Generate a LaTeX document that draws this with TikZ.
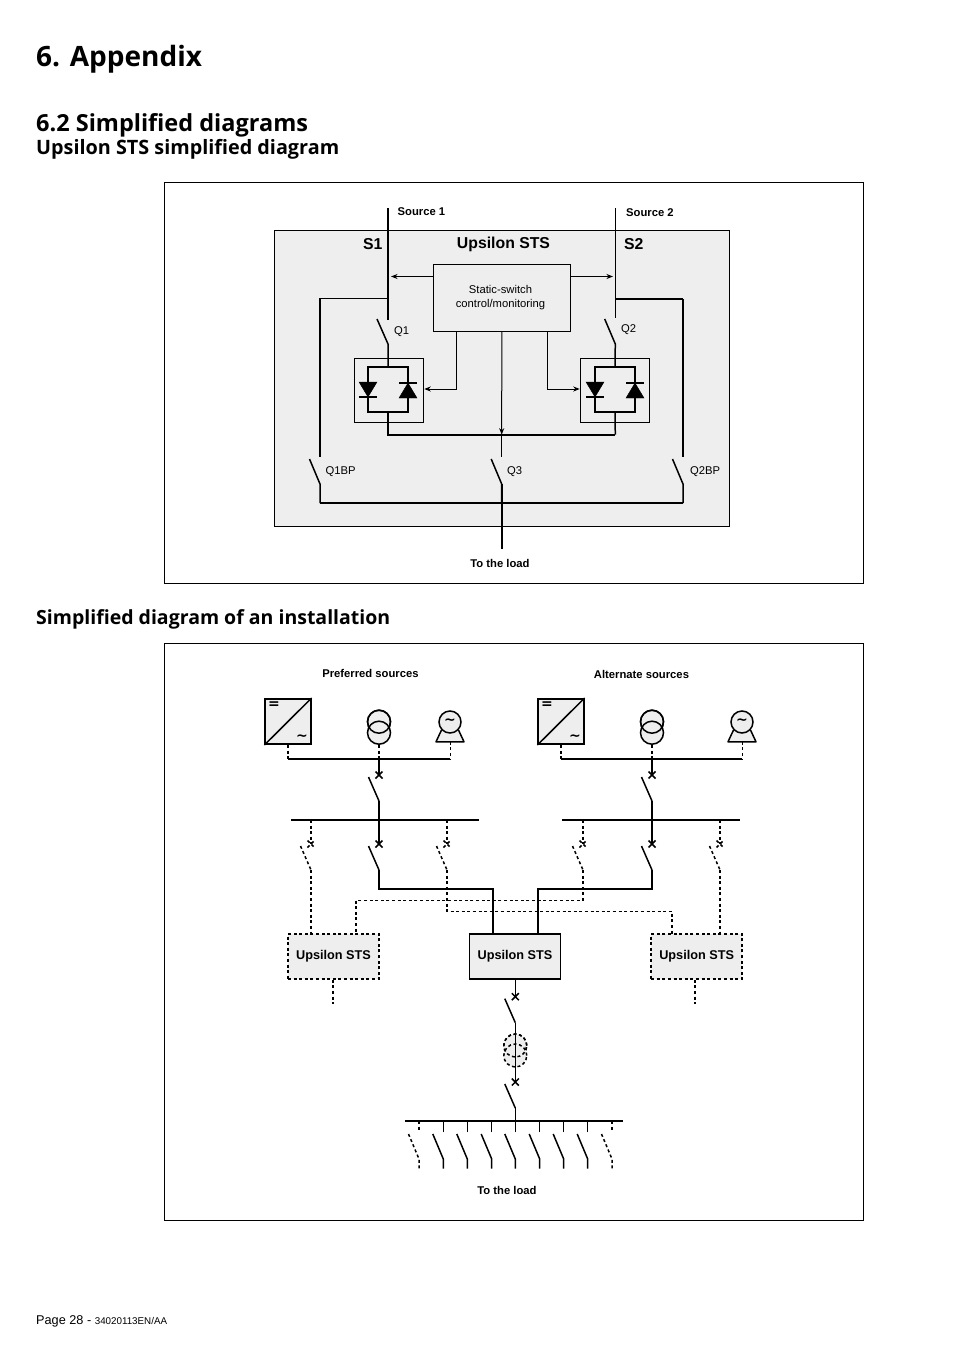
\documentclass[tikz,border=0pt]{standalone}
\usepackage{fontspec}
\setmainfont{Liberation Sans}
\newfontfamily\headfont{Open Sans}
\newfontfamily\symbfont{DejaVu Sans}
\usetikzlibrary{arrows.meta}
\definecolor{panelgray}{HTML}{EEEEEE}
\tikzset{>={Stealth[length=6.5pt,width=5pt,inset=2pt]}}
\tikzset{
  frame/.style={draw,line width=0.9pt,inner sep=0pt},
  housing/.style={draw,line width=0.9pt,fill=panelgray,inner sep=0pt},
  bridgebox/.style={draw,line width=0.8pt,inner sep=0pt,minimum width=69.7pt,minimum height=64pt},
  bridgecore/.style={draw,line width=1.6pt,inner sep=0pt,minimum width=40.3pt,minimum height=44.7pt},
  thin wire/.style={line width=1pt},
  mid wire/.style={line width=1.5pt},
  heavy wire/.style={line width=2pt},
  bus wire/.style={line width=1.7pt},
  dash wire/.style={line width=1.5pt,dash pattern=on 3pt off 2.6pt},
  stsbox/.style={fill=panelgray,inner sep=0pt,minimum width=91pt,minimum height=45pt,font=\fontsize{12.7}{14}\selectfont\bfseries},
  sourcebox/.style={draw,line width=1.6pt,fill=panelgray,inner sep=0pt,minimum width=45.6pt,minimum height=45.4pt},
  coil/.style={draw,circle,line width=1.5pt,inner sep=0pt,minimum size=23pt},
  symb/.style={inner sep=0pt,font=\symbfont\fontsize{14}{16}\selectfont\bfseries},
  label/.style={inner sep=0pt,font=\fontsize{11.25}{13}\selectfont},
  boldlabel/.style={inner sep=0pt,font=\fontsize{11.25}{13}\selectfont\bfseries},
  biglabel/.style={inner sep=0pt,font=\fontsize{15.8}{17}\selectfont\bfseries}
}
% cross and blade of a switch: style, name, x, y of the cross
\newcommand{\breaker}[4]{
  \coordinate (#2x) at (#3,#4);
  \coordinate (#2t) at (#3-10.5,#4+2);
  \coordinate (#2b) at (#3,#4+26);
  \draw[#1] (#2x) +(-3.5,-3.5) -- +(3.5,3.5) +(-3.5,3.5) -- +(3.5,-3.5);
  \draw[#1] (#2t) -- (#2b);
}
% the three sources above one bus
\newcommand{\sourcegroup}[4]{
  \node[sourcebox] (#1conv) at (#2,721.5) {};
  \draw[line width=1.5pt] (#1conv.south west) -- (#1conv.north east);
  \node[symb] (#1eq) at (#2-14,705.5) {=};
  \node[symb] (#1ac) at (#2+14,738) {\char"223C};
  \node[coil,fill=panelgray] (#1coila) at (#3,721.7) {};
  \node[coil,fill=panelgray] (#1coilb) at (#3,732.7) {};
  \node[coil] (#1coilc) at (#3,721.7) {};
  \coordinate (#1legl) at (#4-14,741.8);
  \coordinate (#1legr) at (#4+14,741.8);
  \coordinate (#1necl) at (#4-8.5,730);
  \coordinate (#1necr) at (#4+8.5,730);
  \draw[line width=1.5pt,fill=panelgray,line join=round] (#1necl) -- (#1legl) -- (#1legr) -- (#1necr);
  \node[coil,symb,fill=panelgray,minimum size=22pt] (#1gen) at (#4,722) {\char"223C};
  \coordinate (#1tapa) at (#2,759);
  \coordinate (#1tapb) at (#3,759);
  \coordinate (#1tapc) at (#4,759);
  \draw[dash wire] (#1conv.south) -- (#1tapa);
  \draw[dash wire] (#1coilb.south) -- (#1tapb);
  \draw[dash wire,line width=1pt] (#1gen.south |- #1legl) -- (#1tapc);
  \draw[mid wire] (#1tapa) -- (#1tapc);
}
\begin{document}
\begin{tikzpicture}[x=1pt,y=-1pt]
  \useasboundingbox (0,0) rectangle (954,1351);
  % page headings
  \node[anchor=base west,inner sep=0pt,font=\headfont\fontsize{28}{30}\selectfont\bfseries] (title) at (36,67) {6. Appendix};
  \node[anchor=base west,inner sep=0pt,font=\headfont\fontsize{23.5}{26}\selectfont\bfseries] (secA) at (36,131.5) {6.2 Simplified diagrams};
  \node[anchor=base west,inner sep=0pt,font=\headfont\fontsize{19.8}{22}\selectfont\bfseries] (subA) at (36,155) {Upsilon STS simplified diagram};
  \node[anchor=base west,inner sep=0pt,font=\headfont\fontsize{19.5}{22}\selectfont\bfseries] (subB) at (36,624) {Simplified diagram of an installation};
  \node[anchor=base west,inner sep=0pt,font=\fontsize{12.7}{14}\selectfont] (page) at (36,1324) {Page 28 - {\fontsize{9.8}{11}\selectfont 34020113EN/AA}};

  % upper diagram
  \node[frame,minimum width=699pt,minimum height=401pt] (frameA) at (513.5,382.5) {};
  \node[housing,minimum width=454.5pt,minimum height=295.4pt] (sts) at (502,378.3) {};
  \node[housing,minimum width=137pt,minimum height=67pt] (ctrl) at (501.8,297.8) {};
  \node[bridgebox] (bridgeA) at (389,390) {};
  \node[bridgebox] (bridgeB) at (615,390) {};
  \node[bridgecore] (coreA) at (388,389.5) {};
  \node[bridgecore] (coreB) at (615,389.5) {};
  \foreach \cx in {368,595} {
    \draw[fill=black] (\cx-9,382) -- (\cx+9,382) -- (\cx,397) -- cycle;
    \draw[line width=1.6pt] (\cx-9,397) -- (\cx+9,397);
  }
  \foreach \cx in {408,635} {
    \draw[fill=black] (\cx-9,398) -- (\cx+9,398) -- (\cx,383) -- cycle;
    \draw[line width=1.6pt] (\cx-9,383) -- (\cx+9,383);
  }
  \coordinate (srcA) at (388,208);
  \coordinate (srcB) at (615.3,208);
  \coordinate (teeA) at (388,298.5);
  \coordinate (teeB) at (615.3,299);
  \coordinate (endA) at (388,320);
  \coordinate (endB) at (615.3,318);
  \coordinate (hingeA) at (388,344);
  \coordinate (hingeB) at (615.3,344);
  \coordinate (bladeA) at (377,319);
  \coordinate (bladeB) at (604.7,319);
  \coordinate (joinA) at (388,434.7);
  \coordinate (joinB) at (615.3,434.7);
  \coordinate (joinC) at (501.7,434.7);
  \coordinate (cornerL) at (320,298.5);
  \coordinate (cornerR) at (683,299);
  \foreach \name/\cx in {L/320,C/501.7,R/683} {
    \coordinate (top\name) at (\cx,457);
    \coordinate (tip\name) at (\cx-10.5,459);
    \coordinate (hinge\name) at (\cx,484);
    \coordinate (out\name) at (\cx,503);
    \draw[mid wire] (tip\name) -- (hinge\name) -- (out\name);
  }
  \coordinate (load) at (501.7,549);
  \draw[heavy wire] (srcA) -- (endA);
  \draw[thin wire] (srcB) -- (endB);
  \draw[mid wire] (teeA) -- (cornerL) -- (topL);
  \draw[heavy wire] (teeB) -- (cornerR);
  \draw[mid wire] (cornerR) -- (topR);
  \draw[mid wire] (bladeA) -- (hingeA) -- (coreA.north);
  \draw[mid wire] (bladeB) -- (hingeB) -- (coreB.north);
  \draw[heavy wire] (coreA.south) -- (joinA) -- (joinB);
  \draw[mid wire] (joinB) -- (coreB.south);
  \draw[mid wire] (joinC) -- (topC);
  \draw[heavy wire] (outL) -- (outR);
  \draw[heavy wire] (hingeC) -- (load);
  % control arrows
  \coordinate (armA) at (ctrl.west |- 0,276.5);
  \coordinate (armB) at (ctrl.east |- 0,276.5);
  \coordinate (tipA) at (391,276.5);
  \coordinate (tipB) at (613,276.5);
  \coordinate (dropA) at (456.3,331.3);
  \coordinate (dropB) at (547.3,331.3);
  \coordinate (elbowA) at (456.3,389);
  \coordinate (elbowB) at (547.3,389);
  \draw[->,thin wire] (armA) -- (tipA);
  \draw[->,thin wire] (armB) -- (tipB);
  \draw[->,thin wire] (dropA) -- (elbowA) -- (bridgeA.east |- elbowA);
  \draw[->,thin wire] (dropB) -- (elbowB) -- (bridgeB.west |- elbowB);
  \draw[->,thin wire] (ctrl.south) -- (joinC);
  % upper labels
  \node[boldlabel,anchor=base west] (srcAlab) at (397.5,215) {Source 1};
  \node[boldlabel,anchor=base west] (srcBlab) at (626,216) {Source 2};
  \node[biglabel,anchor=base west] (sAlab) at (363,249) {S1};
  \node[biglabel,anchor=base west] (sBlab) at (624,249) {S2};
  \node[biglabel,anchor=base] (stslab) at (503.5,248.5) {Upsilon STS};
  \node[label,anchor=base] (ctrllabA) at (500.5,293) {Static-switch};
  \node[label,anchor=base] (ctrllabB) at (500.5,307) {control/monitoring};
  \node[label,anchor=base west] (qA) at (394,334) {Q1};
  \node[label,anchor=base west] (qB) at (621,332) {Q2};
  \node[label,anchor=base west] (qAbp) at (325.5,474) {Q1BP};
  \node[label,anchor=base west] (qC) at (507,474) {Q3};
  \node[label,anchor=base west] (qBbp) at (690,474) {Q2BP};
  \node[boldlabel,anchor=base] (loadA) at (500,567) {To the load};

  % lower diagram
  \node[frame,minimum width=699pt,minimum height=577pt] (frameB) at (513.5,931.5) {};
  \node[boldlabel,anchor=base] (prefer) at (370.5,677) {Preferred sources};
  \node[boldlabel,anchor=base] (altern) at (641.5,678) {Alternate sources};
  \sourcegroup{p}{288}{379}{450}
  \sourcegroup{a}{561}{652}{742}
  % incomers and buses
  \breaker{mid wire}{pin}{379}{775}
  \breaker{mid wire}{ain}{652}{775}
  \draw[mid wire] (ptapb) -- (pinx);
  \draw[mid wire] (atapb) -- (ainx);
  \coordinate (pbusl) at (291.3,820);
  \coordinate (pbusr) at (478.7,820);
  \coordinate (abusl) at (562,820);
  \coordinate (abusr) at (740.3,820);
  \coordinate (pbusm) at (379,820);
  \coordinate (abusm) at (652,820);
  \draw[bus wire] (pbusl) -- (pbusr);
  \draw[bus wire] (abusl) -- (abusr);
  \draw[mid wire] (pinb) -- (pbusm);
  \draw[mid wire] (ainb) -- (abusm);
  % feeders below the buses
  \breaker{dash wire}{fa}{311}{844}
  \breaker{mid wire}{fb}{379}{844}
  \breaker{dash wire}{fc}{447}{844}
  \breaker{dash wire}{fd}{583}{844}
  \breaker{mid wire}{fe}{652}{844}
  \breaker{dash wire}{ff}{720}{844}
  \draw[dash wire] (311,820) -- (fax);
  \draw[mid wire] (pbusm) -- (fbx);
  \draw[dash wire] (447,820) -- (fcx);
  \draw[dash wire] (583,820) -- (fdx);
  \draw[mid wire] (abusm) -- (fex);
  \draw[dash wire] (720,820) -- (ffx);
  \node[stsbox,dash wire,draw] (stsL) at (333.5,956.5) {Upsilon STS};
  \node[stsbox,draw,line width=1.7pt] (stsC) at (515,956.5) {Upsilon STS};
  \node[stsbox,dash wire,draw] (stsR) at (696.7,956.5) {Upsilon STS};
  \draw[dash wire] (fab) -- (fab |- stsL.north);
  \draw[mid wire] (fbb) -- (379,889) -- (493,889) -- (493,934);
  \draw[dash wire] (fcb) -- (447,911.3) -- (672,911.3) -- (672,934);
  \draw[dash wire] (fdb) -- (583,900.3) -- (356,900.3) -- (356,934);
  \draw[mid wire] (feb) -- (652,889) -- (538,889) -- (538,934);
  \draw[dash wire] (ffb) -- (ffb |- stsR.north);
  % below the boxes
  \coordinate (stubL) at (333,1004);
  \coordinate (stubR) at (695,1004);
  \draw[dash wire] (stsL.south -| stubL) -- (stubL);
  \draw[dash wire] (stsR.south -| stubR) -- (stubR);
  \breaker{mid wire}{ca}{515.3}{996.7}
  \breaker{mid wire}{cb}{515.3}{1082}
  \draw[mid wire] (stsC.south -| cax) -- (cax);
  \node[coil,fill=panelgray,dash wire,draw] (xfa) at (cax |- 0,1045.5) {};
  \node[coil,dash wire,draw,fill=panelgray] (xfb) at (cax |- 0,1055.5) {};
  \node[coil,dash wire,draw] (xfc) at (cax |- 0,1045.5) {};
  \draw[mid wire] (cab) -- (cbx);
  \coordinate (lbusl) at (405,1121);
  \coordinate (lbusr) at (623,1121);
  \coordinate (lbusm) at (515.3,1121);
  \draw[bus wire] (lbusl) -- (lbusr);
  \draw[mid wire] (cbb) -- (lbusm);
  \foreach \name/\cx/\sty in {o/419/dash wire,p/443.3/mid wire,q/467.3/mid wire,r/491.7/mid wire,s/515.3/mid wire,t/539.7/mid wire,u/563.7/mid wire,v/587.7/mid wire,w/612/dash wire} {
    \coordinate (\name up) at (\cx,1121);
    \coordinate (\name stop) at (\cx,1132);
    \coordinate (\name tip) at (\cx-10.5,1134);
    \coordinate (\name hinge) at (\cx,1159);
    \coordinate (\name foot) at (\cx,1168.7);
    \draw[\sty] (\name up) -- (\name stop);
    \draw[\sty] (\name tip) -- (\name hinge) -- (\name foot);
  }
  \node[boldlabel,anchor=base] (loadB) at (507,1194) {To the load};
\end{tikzpicture}
\end{document}
